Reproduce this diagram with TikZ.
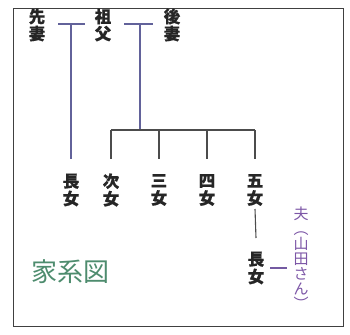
\documentclass[tikz,border=0pt]{standalone}
\usepackage{fontspec}
\usetikzlibrary{calc}
\newfontfamily\jp{Noto Sans CJK JP}
\newfontfamily\jpb{Noto Sans CJK JP}[UprightFeatures={FakeBold=0.5},BoldFeatures={FakeBold=0.5}]
\definecolor{lineblue}{HTML}{62629A}
\definecolor{purp}{HTML}{7C56A6}
\definecolor{grn}{HTML}{4E8C6E}
\newcommand\vstack[2]{\vbox{\baselineskip=#1\relax\lineskiplimit=-20pt\relax #2}}
\newcommand\ch[1]{\hbox to 16pt{\hss#1\hss}}
\begin{document}
\begin{tikzpicture}[x=1pt,y=-1pt,
  person/.style={inner sep=0pt,font=\jpb\bfseries\fontsize{16.5}{17}\selectfont,text=black!85},
  marr/.style={draw=lineblue,line width=1.2pt},
  kin/.style={draw=black!70,line width=1.1pt}]
\useasboundingbox (0,0) rectangle (350,334);
\draw[black!75,line width=1pt] (13,9) rectangle (343,326);
% top generation
\node[person] (sensai) at (37,25) {\vstack{17pt}{\ch{先}\ch{妻}}};
\node[person] (sofu) at (103,25) {\vstack{17pt}{\ch{祖}\ch{父}}};
\node[person] (gosai) at (172,25) {\vstack{17pt}{\ch{後}\ch{妻}}};
% children
\node[person] (c1) at (71,190) {\vstack{17.5pt}{\ch{長}\ch{女}}};
\node[person] (c2) at (111,190) {\vstack{17.5pt}{\ch{次}\ch{女}}};
\node[person] (c3) at (159,190) {\vstack{17.5pt}{\ch{三}\ch{女}}};
\node[person] (c4) at (207,190) {\vstack{17.5pt}{\ch{四}\ch{女}}};
\node[person] (c5) at (255,190) {\vstack{17.5pt}{\ch{五}\ch{女}}};
\node[person] (gc) at (256,268) {\vstack{17.5pt}{\ch{長}\ch{女}}};
\node[inner sep=0pt,font=\jp\fontsize{15}{15}\selectfont,text=purp] (otto) at (301,258) {\vstack{15pt}{\ch{夫}\ch{︵}\ch{山}\ch{田}\ch{さ}\ch{ん}\ch{︶}}};
\node[inner sep=0pt,font=\jp\fontsize{26}{28}\selectfont,text=grn] (title) at (70,272) {家系図};
% helper levels
\coordinate (m1) at (71,24);
\coordinate (m2) at (140,24);
\coordinate (bar) at (140,130);
\coordinate (cend) at (0,159);
\coordinate (dstart) at (0,209);
\coordinate (dend) at (0,238);
\coordinate (mm) at (278,268);
% marriage lines
\draw[marr] ($(sensai.east |- m1)+(13,0)$) -- ($(sofu.west |- m1)+(-10,0)$);
\draw[marr] ($(sofu.east |- m2)+(13,0)$) -- ($(gosai.west |- m2)+(-11,0)$);
% descent lines
\draw[kin,draw=lineblue] (m1) -- (c1.north |- cend);
\draw[kin,draw=lineblue] (m2) -- (bar);
\draw[kin] (c2.north |- bar) -- (c5.north |- bar);
\foreach \c in {c2,c3,c4,c5} \draw[kin] (\c.north |- bar) -- (\c.north |- cend);
\draw[kin] (c5.south |- dstart) -- (gc.north |- dend);
\draw[draw=purp!70!lineblue,line width=1.2pt] ([xshift=6pt]gc.east |- mm) -- ([xshift=-6pt]otto.west |- mm);
\end{tikzpicture}
\end{document}
